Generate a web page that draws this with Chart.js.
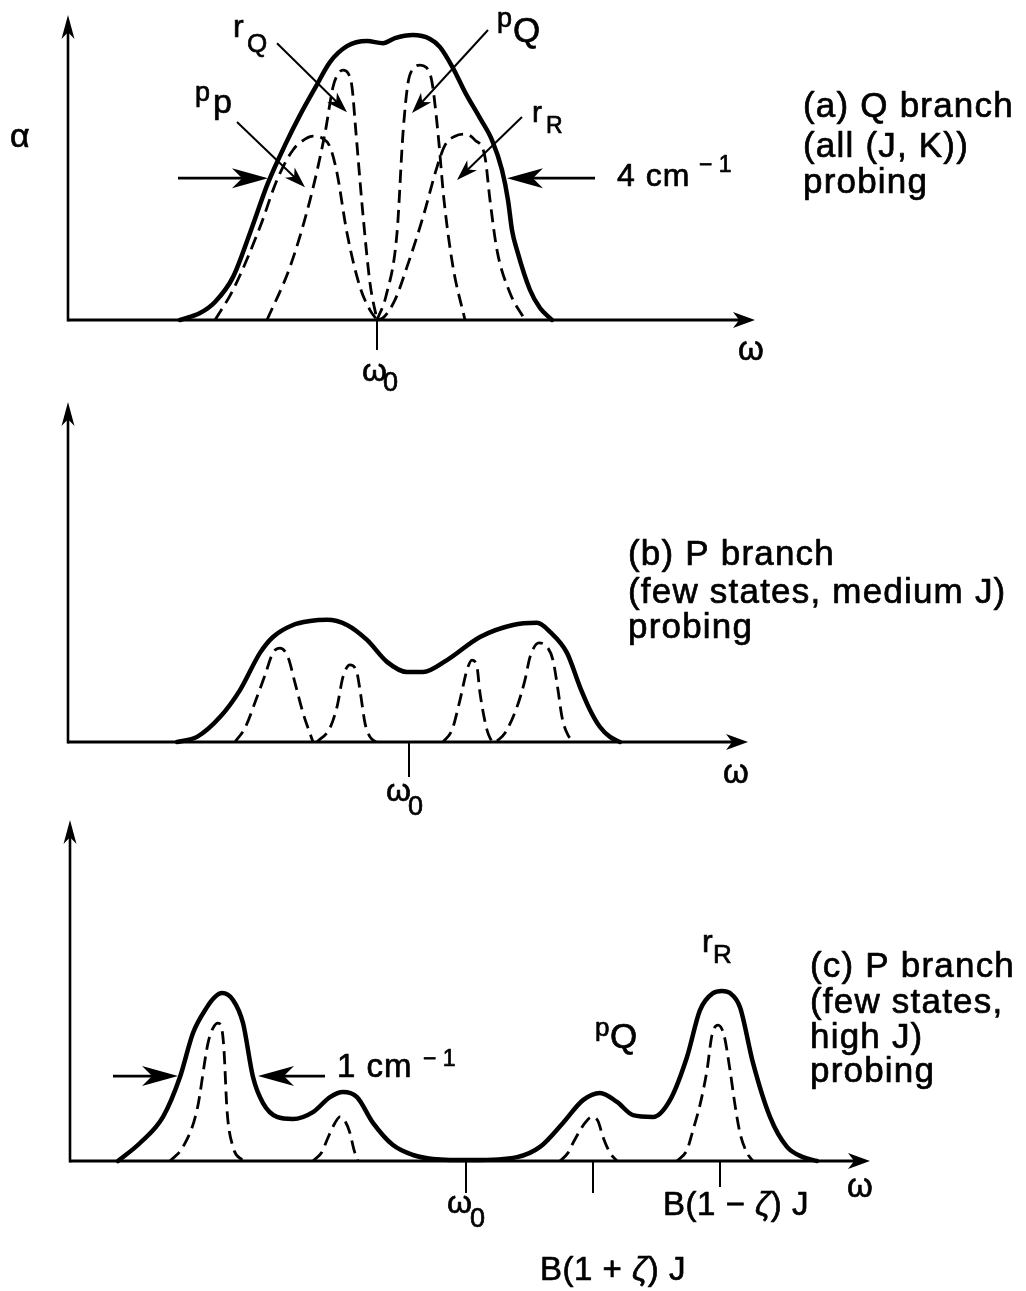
<!DOCTYPE html>
<html><head><meta charset="utf-8">
<script src="https://cdn.jsdelivr.net/npm/chart.js@4/dist/chart.umd.min.js"></script>
<style>
html,body{margin:0;padding:0;background:#fff;}
#wrap{position:relative;width:1026px;height:1291px;overflow:hidden;background:#fff;}
canvas{position:absolute;left:0;}
</style></head><body>
<div id="wrap">
<canvas id="ca" width="1026" height="400" style="top:0px"></canvas>
<canvas id="cb" width="1026" height="430" style="top:400px"></canvas>
<canvas id="cc" width="1026" height="481" style="top:810px"></canvas>
</div>
<script>
// x = detuning (omega - omega0), arbitrary units ; y = absorption alpha, arbitrary units

// ---------- Panel (a) : Q branch, all (J,K) probing ----------
const aEnvelopeX = [-19.7,-17.7,-16.2,-14.4,-12.7,-10.9,-9.2,-7.7,-6.2,-4.7,-3,-1,0.6,1.8,3.6,5.3,6.3,7.6,8.8,10.3,11.5,12.5,13.1,13.5,14,15.3,16.3,17.5];
const aEnvelopeY = [0,2.3,6,14.3,29,45.7,58.3,68.3,77.3,86,91.3,93,92.3,94,95,93.7,91,84,76,67.3,60,50,40,30,23.3,10,4,0];
const aPP_X = [-16.2,-14.4,-11.7,-10,-8.4,-7.2,-6.4,-5.5,-4.7,-4,-3,-1.7,-0.7,0];
const aPP_Y = [0,10,31,46.7,56.7,60.3,61.3,60.7,57.7,49,29,11,3.3,0];
const aRQ_X = [-11,-8.7,-6.7,-5.2,-4.4,-3.9,-3.4,-2.9,-2.5,-2.1,-1.4,-0.7,0];
const aRQ_Y = [0,17.7,40,62.3,77.7,82,83.3,82.3,77.7,62.3,35,12.3,0];
const aPQ_X = [0,0.9,2,2.6,3.1,3.7,4.3,4.9,5.5,6.1,6.7,7.6,8.8];
const aPQ_Y = [0,8,29,62.3,79,84,85,84.3,79.3,62.3,40,17.7,0];
const aRR_X = [0,0.6,1.8,3,4.6,6,6.8,7.8,8.8,9.8,10.8,11.3,12,13.3,14.8];
const aRR_Y = [0,0.7,6.7,17.7,34.3,51,58.3,61.3,62,60,54.3,40,23.3,9,0];

// ---------- Panel (b) : P branch, few states, medium J ----------
const bEnvelopeX = [-23.2,-21.2,-18.9,-16.9,-14.9,-13.6,-11.6,-9.9,-8.2,-6.2,-4.2,-2.2,-0.2,1.4,3.8,7.1,10.4,12.8,14.1,15.8,17.1,18.1,19.1,20.1,21.1];
const bEnvelopeY = [0,1.7,8.3,17.3,29.7,35,39,40.3,40.7,39,34,26.7,23.3,23.3,27.3,35,39,39.7,36.7,29.7,18.3,10.7,5,1.7,0];
const bLine1X = [-17.4,-16.4,-15.2,-14.4,-13.6,-12.9,-12.1,-11.4,-10.6,-9.6];
const bLine1Y = [0,4.7,15,22.3,29.7,31.3,28.3,19.7,9.7,0];
const bLine2X = [-9.2,-7.9,-7.2,-6.6,-5.9,-5.2,-4.9,-4.4,-3.9,-3.3];
const bLine2Y = [0,4.7,11.7,21.7,25.7,23,17.3,6.3,1.7,0];
const bLine3X = [3.4,4.3,5.1,5.8,6.3,6.8,7.1,7.8,8.3];
const bLine3Y = [0,4,14,24,27.3,25,16.3,4,0];
const bLine4X = [8.8,9.6,10.8,11.6,12.1,13,13.9,14.4,14.9,15.3,15.9,16.6];
const bLine4Y = [0.3,3,11.7,20.7,28.3,33,31.3,27.3,17.3,8.3,2.3,0];

// ---------- Panel (c) : P branch, few states, high J ----------
const cEnvelopeX = [-34.8,-32.6,-30.3,-28.6,-27.3,-25.9,-25.1,-24.4,-23.3,-22.3,-21.3,-20.3,-18.9,-17.3,-15.3,-13.6,-12.3,-10.9,-9.3,-7.3,-5.3,-3.3,0.7,5.1,7.4,9.7,11.7,13.4,15.1,16.7,18.7,20.4,22.1,23.4,24.7,25.6,26.4,27.4,28.7,30.4,32.1,33.7,35.1];
const cEnvelopeY = [0,6,14.7,28,42.7,51.3,54.7,56,53.7,46,28,19.3,14.7,14,16.3,21.3,23,21.3,12.7,5.3,2,0.7,0.3,1.3,4.7,12.7,20.3,22.7,19.7,15.3,14.7,20.3,34.7,50.3,56,56.7,56,51.3,32.7,14.7,4.7,1.3,0];
const cLine1X = [-29.6,-28.3,-26.9,-25.8,-25.3,-24.8,-24.4,-24.2,-23.9,-23.3,-22.3];
const cLine1Y = [0,4.7,17,39.3,44.3,46,43.7,37,17,4.7,0];
const cLine2X = [-15.3,-14.4,-13.9,-13.1,-12.6,-12.1,-11.6,-11.2,-10.8];
const cLine2Y = [0,3,7,12.7,14.7,13.3,9.3,3.7,0];
const cLine3X = [9.4,10.2,10.7,11.9,12.6,13.2,13.7,14.4,15.1];
const cLine3Y = [0,2.7,6,12.7,14.7,13.3,8,2.7,0];
const cLine4X = [21.1,22.1,22.7,23.4,24.1,24.6,25.2,25.8,26.4,26.9,27.4,28.1,28.7];
const cLine4Y = [0,3.7,10.3,18.7,30.3,42,45.3,42,30.3,18.7,9.3,2.7,0];

// axis ranges (x from origin to arrow tip, y from baseline to arrow tip)
const aRangeX = [-30.9, 37.8], aRangeY = [0, 101.7];
const bRangeX = [-34.1, 33.9], bRangeY = [0, 113.3];
const cRangeX = [-39.6, 40.4], cRangeY = [0, 113.7];
// tick marks on the omega axis
const cTickX = [0, 12.7, 25.4];

const FONT = '"Liberation Sans", Arial, Helvetica, sans-serif';
const INK = '#000';

function pts(xs, ys){ return xs.map((x,i)=>({x:x, y:ys[i]})); }
function solid(xs, ys){ return {data:pts(xs,ys), borderColor:INK, borderWidth:4.5, pointRadius:0, cubicInterpolationMode:'monotone', fill:false, clip:false, borderJoinStyle:'round', borderCapStyle:'round'}; }
function dashed(xs, ys){ return {data:pts(xs,ys), borderColor:INK, borderWidth:2.8, borderDash:[13,7], pointRadius:0, cubicInterpolationMode:'monotone', fill:false, clip:false}; }

function arrow(ctx, x1,y1,x2,y2, len, hw, lw){
  const dx=x2-x1, dy=y2-y1, L=Math.hypot(dx,dy), ux=dx/L, uy=dy/L, nx=-uy, ny=ux;
  ctx.lineWidth=lw; ctx.strokeStyle=INK; ctx.fillStyle=INK; ctx.setLineDash([]);
  ctx.beginPath(); ctx.moveTo(x1,y1); ctx.lineTo(x2-ux*len*0.6, y2-uy*len*0.6); ctx.stroke();
  ctx.beginPath(); ctx.moveTo(x2,y2);
  ctx.lineTo(x2-ux*len+nx*hw, y2-uy*len+ny*hw);
  ctx.lineTo(x2-ux*len*0.72, y2-uy*len*0.72);
  ctx.lineTo(x2-ux*len-nx*hw, y2-uy*len-ny*hw);
  ctx.closePath(); ctx.fill();
}

function makePlugin(ann){
  return {
    id:'diagram',
    beforeDatasetsDraw(chart){
      const ctx=chart.ctx, a=chart.chartArea, xs=chart.scales.x, ys=chart.scales.y;
      ctx.save();
      arrow(ctx, a.left, ys.getPixelForValue(0)+1.5, a.left, a.top, 24, 6.5, 2.6);
      arrow(ctx, a.left, ys.getPixelForValue(0), a.right, ys.getPixelForValue(0), 22, 8, 3.2);
      ctx.lineWidth=2; ctx.strokeStyle=INK;
      (ann.ticks||[]).forEach(t=>{
        const px=xs.getPixelForValue(t.x);
        ctx.beginPath(); ctx.moveTo(px, ys.getPixelForValue(0)); ctx.lineTo(px, ys.getPixelForValue(t.y)); ctx.stroke();
      });
      ctx.restore();
    },
    afterDatasetsDraw(chart){
      const ctx=chart.ctx, xs=chart.scales.x, ys=chart.scales.y;
      ctx.save();
      (ann.arrows||[]).forEach(r=>{
        arrow(ctx, xs.getPixelForValue(r.from[0]), ys.getPixelForValue(r.from[1]),
                   xs.getPixelForValue(r.to[0]), ys.getPixelForValue(r.to[1]),
                   r.big?36:21, r.big?10:7, r.big?2.8:2);
      });
      ctx.fillStyle=INK; ctx.strokeStyle=INK; ctx.textBaseline='alphabetic'; ctx.textAlign='left';
      ctx.lineWidth=0.7; ctx.lineJoin='round'; ctx.setLineDash([]);
      (ann.texts||[]).forEach(t=>{
        let px=xs.getPixelForValue(t.x); const py=ys.getPixelForValue(t.y);
        const parts = Array.isArray(t.t) ? t.t : [{s:t.t}];
        parts.forEach(p=>{
          ctx.font = (p.it?'italic ':'') + t.size+'px '+FONT;
          try { ctx.letterSpacing = (t.ls||0)+'px'; } catch(e){}
          ctx.fillText(p.s, px, py);
          ctx.strokeText(p.s, px, py);
          px += ctx.measureText(p.s).width;
        });
      });
      ctx.restore();
    }
  };
}

function build(id, rx, ry, pad, datasets, ann){
  new Chart(document.getElementById(id), {
    type:'line',
    data:{datasets:datasets},
    options:{
      responsive:false, animation:false, devicePixelRatio:1,
      layout:{padding:pad},
      plugins:{legend:{display:false}, tooltip:{enabled:false}},
      events:[],
      scales:{
        x:{type:'linear', min:rx[0], max:rx[1], display:false, bounds:'data'},
        y:{type:'linear', min:ry[0], max:ry[1], display:false, bounds:'data'}
      }
    },
    plugins:[makePlugin(ann)]
  });
}

const L = 35, LS = 1.2;

build('ca', aRangeX, aRangeY, {left:68, right:271, top:15, bottom:80},
  [solid(aEnvelopeX,aEnvelopeY), dashed(aPP_X,aPP_Y), dashed(aRQ_X,aRQ_Y), dashed(aPQ_X,aPQ_Y), dashed(aRR_X,aRR_Y)],
  {
    ticks:[{x:0, y:-10}],
    arrows:[
      {from:[-19.9,47.3], to:[-10.9,47.3], big:true},
      {from:[21.8,47.3], to:[13.0,47.3], big:true},
      {from:[-10,92.3], to:[-3,69.3]},
      {from:[-14,66], to:[-7.2,44.3]},
      {from:[11.1,96.7], to:[3.5,69]},
      {from:[14.5,67.7], to:[8,46.7]}
    ],
    texts:[
      {t:'α', x:-36.7, y:57.7, size:34},
      {t:'ω', x:36.1, y:-13.3, size:33},
      {t:'ω', x:-1.5, y:-20.3, size:32},
      {t:'0', x:0.6, y:-23.7, size:27},
      {t:'4 cm', x:24, y:44.7, size:32, ls:1},
      {t:'− 1', x:32.2, y:49.3, size:23},
      {t:'r', x:-14.4, y:94.3, size:32},
      {t:'Q', x:-13.0, y:89.3, size:26},
      {t:'p', x:12, y:97.7, size:27},
      {t:'Q', x:13.6, y:92.7, size:35},
      {t:'p', x:-18.2, y:73, size:27},
      {t:'p', x:-16.4, y:69, size:34},
      {t:'r', x:15.5, y:66, size:30},
      {t:'R', x:16.9, y:62.3, size:23},
      {t:'(a) Q branch', x:42.6, y:67.7, size:L, ls:LS},
      {t:'(all (J, K))', x:42.6, y:54.3, size:L, ls:LS},
      {t:'probing', x:42.6, y:42.3, size:L, ls:LS}
    ]
  });

build('cb', bRangeX, bRangeY, {left:68, right:278, top:2, bottom:88},
  [solid(bEnvelopeX,bEnvelopeY), dashed(bLine1X,bLine1Y), dashed(bLine2X,bLine2Y), dashed(bLine3X,bLine3Y), dashed(bLine4X,bLine4Y)],
  {
    ticks:[{x:0, y:-11.7}],
    texts:[
      {t:'ω', x:31.4, y:-13.7, size:33},
      {t:'ω', x:-2.3, y:-19.7, size:32},
      {t:'0', x:-0.1, y:-24.3, size:27},
      {t:'(b) P branch', x:21.9, y:59, size:L, ls:LS},
      {t:'(few states, medium J)', x:21.9, y:46.3, size:L, ls:LS},
      {t:'probing', x:21.9, y:34.7, size:L, ls:LS}
    ]
  });

build('cc', cRangeX, cRangeY, {left:70, right:156, top:10, bottom:130},
  [solid(cEnvelopeX,cEnvelopeY), dashed(cLine1X,cLine1Y), dashed(cLine2X,cLine2Y), dashed(cLine3X,cLine3Y), dashed(cLine4X,cLine4Y)],
  {
    ticks:[{x:cTickX[0], y:-10.7},{x:cTickX[1], y:-10.7},{x:cTickX[2], y:-8.7}],
    arrows:[
      {from:[-35.3,28.3], to:[-28.8,28.3], big:true},
      {from:[-14.1,28.3], to:[-20.8,28.3], big:true}
    ],
    texts:[
      {t:'ω', x:38.1, y:-12, size:33},
      {t:'ω', x:-1.9, y:-17.3, size:32},
      {t:'0', x:0.4, y:-22, size:27},
      {t:[{s:'B(1 − '},{s:'ζ',it:true},{s:') J'}], x:19.7, y:-18, size:33, ls:0.5},
      {t:[{s:'B(1 + '},{s:'ζ',it:true},{s:') J'}], x:7.4, y:-39.7, size:33, ls:0.5},
      {t:'1 cm', x:-12.9, y:28, size:33, ls:1},
      {t:'− 1', x:-4.3, y:31.7, size:23},
      {t:'r', x:23.6, y:69.7, size:32},
      {t:'R', x:24.7, y:66, size:26},
      {t:'p', x:12.9, y:41.7, size:26},
      {t:'Q', x:14.4, y:37.7, size:35},
      {t:'(c) P branch', x:34.4, y:61.3, size:L, ls:LS},
      {t:'(few states,', x:34.4, y:49.3, size:L, ls:LS},
      {t:'high J)', x:34.4, y:37.7, size:L, ls:LS},
      {t:'probing', x:34.4, y:26.3, size:L, ls:LS}
    ]
  });
</script>
</body></html>
